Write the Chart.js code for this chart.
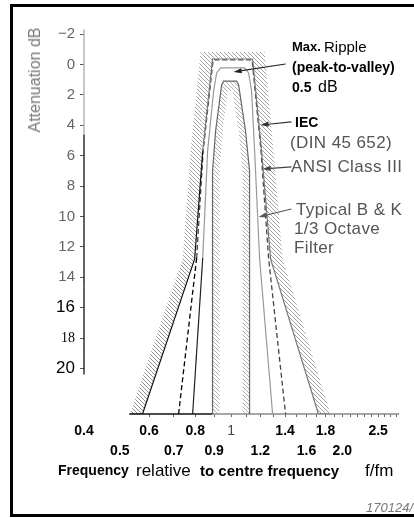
<!DOCTYPE html>
<html>
<head>
<meta charset="utf-8">
<script src="https://cdn.jsdelivr.net/npm/chart.js@4.4.0/dist/chart.umd.min.js"></script>
<style>
  html, body { margin: 0; padding: 0; background: #fff; }
  #wrap { position: relative; width: 414px; height: 518px; overflow: hidden; font-family: 'Liberation Sans', Arial, sans-serif; }
  #frame { position: absolute; left: 10px; top: 4px; width: 520px; height: 507px; border: 3px solid #000; border-right: none; }
  #chart { position: absolute; left: 0; top: 0; }
  .t { position: absolute; white-space: nowrap; line-height: 1; }
  .b { font-weight: bold; }
  .g { color: #555; font-size: 17px; letter-spacing: 0.4px; }
  #ytitle { left: 35px; top: 80px; transform: translate(-50%, -50%) rotate(-90deg); font-size: 16px; color: #777; }
</style>
</head>
<body>
<div id="wrap">
  <div id="frame"></div>
  <canvas id="chart" width="414" height="518"></canvas>

  <div id="ytitle" class="t">Attenuation dB</div>

  <div class="t b" style="left:292px;top:40px;font-size:13px;">Max.</div>
  <div class="t" style="left:324px;top:39px;font-size:15px;">Ripple</div>
  <div class="t b" style="left:292px;top:60px;font-size:14px;">(peak-to-valley)</div>
  <div class="t b" style="left:292px;top:80px;font-size:14px;">0.5</div>
  <div class="t" style="left:318px;top:79px;font-size:16px;">dB</div>
  <div class="t b" style="left:295px;top:115px;font-size:14px;">IEC</div>
  <div class="t g" style="left:290px;top:134px;">(DIN 45 652)</div>
  <div class="t g" style="left:291px;top:158px;">ANSI Class III</div>
  <div class="t g" style="left:296px;top:201px;">Typical B &amp; K</div>
  <div class="t g" style="left:294px;top:220px;">1/3 Octave</div>
  <div class="t g" style="left:294px;top:239px;">Filter</div>

  <div class="t b" style="left:58px;top:463px;font-size:14px;">Frequency</div>
  <div class="t" style="left:136px;top:462px;font-size:17px;">relative</div>
  <div class="t b" style="left:200px;top:463px;font-size:15px;">to centre frequency</div>
  <div class="t" style="left:365px;top:462px;font-size:17px;">f/fm</div>

  <div class="t" style="left:366px;top:501px;font-size:13px;font-style:italic;color:#777;">170124/</div>
</div>

<script>
// IEC limit, hatched on the outside (f/fm, dB)
const iecOuterF  = [0.535, 0.576, 0.797, 0.838, 0.891, 1.143, 1.209, 1.279, 1.723, 1.857];
const iecOuterDb = [23, 23, 12.8, 5.7, -0.36, -0.36, 5.7, 12.8, 23, 23];
const iecHatchF  = [0.535, 0.740, 0.777, 0.827, 1.232, 1.302, 1.378, 1.857];
const iecHatchDb = [23, 12.8, 5.7, -0.82, -0.82, 5.7, 12.8, 23];

// IEC inner limit, hatched on the inside
const innerF  = [0.891, 0.891, 0.908, 0.943, 0.954, 1.035, 1.048, 1.094, 1.122, 1.122];
const innerDb = [23, 7.01, 4.38, 1.35, 1.09, 1.09, 1.35, 4.38, 7.01, 23];
const innerHatchF  = [0.891, 0.931, 0.931, 0.949, 0.979, 1.009, 1.048, 1.074, 1.074, 1.122];
const innerHatchDb = [23, 23, 7.01, 4.38, 1.74, 1.74, 4.38, 7.01, 23, 23];

// ANSI Class III (dashed)
const ansiF  = [0.721, 0.807, 0.840, 0.894, 1.140, 1.205, 1.263, 1.404];
const ansiDb = [23, 12.73, 5.69, -0.3, -0.3, 5.69, 12.73, 23];

// typical B&K 1/3 octave filter
const bkF  = [0.787, 0.838, 0.864, 0.897, 0.914, 0.937, 1.088, 1.115, 1.136, 1.158, 1.194, 1.295];
const bkDb = [23, 12.73, 5.69, 1.74, 0.56, 0.23, 0.23, 0.56, 1.74, 5.69, 12.73, 23];

// axis lines
const baseF  = [0.53, 0.89, 2.85];
const baseDb = [23, 23, 23];
const yAxisDb = [-2.3, 4.6, 14.6, 20.4];

// arrows: label -> curve
const arrowTailF  = [1.404, 1.457, 1.457, 1.457];
const arrowTailDb = [-0.03, 3.78, 6.74, 9.51];
const arrowHeadF  = [1.016, 1.202, 1.217, 1.187];
const arrowHeadDb = [0.49, 3.98, 6.88, 10.03];

// ticks
const xTickValues = [0.4, 0.5, 0.6, 0.7, 0.8, 0.9, 1, 1.1, 1.2, 1.3, 1.4, 1.5, 1.6, 1.7, 1.8, 1.9, 2, 2.1, 2.2, 2.3, 2.4, 2.5, 2.6, 2.7, 2.8];
const xLabelsTop = ['0.4', '0.6', '0.8', '1', '1.4', '1.8', '2.5'];
const xLabelsBottom = ['0.5', '0.7', '0.9', '1.2', '1.6', '2.0'];
const yTickValues = [-2, -1, 0, 1, 2, 3, 4, 5, 6, 7, 8, 9, 10, 11, 12, 13, 14, 15, 16, 17, 18, 19, 20];
const yLabelValues = [-2, 0, 2, 4, 6, 8, 10, 12, 14, 16, 18, 20];

const zip = (fs, ds) => fs.map((f, i) => ({ x: f, y: ds[i] }));

function hatch(color) {
  const c = document.createElement('canvas');
  c.width = 4; c.height = 4;
  const g = c.getContext('2d');
  g.strokeStyle = color;
  g.lineWidth = 0.9;
  g.beginPath();
  g.moveTo(-1, -1); g.lineTo(5, 5);
  g.moveTo(3, -1); g.lineTo(5, 1);
  g.moveTo(-1, 3); g.lineTo(1, 5);
  g.stroke();
  return g.createPattern(c, 'repeat');
}

const leftLow = ctx => ctx.p0.parsed.x < 0.8;

const arrowPlugin = {
  id: 'arrows',
  afterDatasetsDraw(chart) {
    const { ctx, scales: { x, y } } = chart;
    const colors = ['#222', '#333', '#444', '#555'];
    ctx.save();
    arrowHeadF.forEach((hf, i) => {
      const x0 = x.getPixelForValue(arrowTailF[i]), y0 = y.getPixelForValue(arrowTailDb[i]);
      const x1 = x.getPixelForValue(hf), y1 = y.getPixelForValue(arrowHeadDb[i]);
      const a = Math.atan2(y1 - y0, x1 - x0);
      const ca = Math.cos(a), sa = Math.sin(a);
      ctx.strokeStyle = colors[i];
      ctx.fillStyle = colors[i];
      ctx.lineWidth = 1.1;
      ctx.beginPath();
      ctx.moveTo(x0, y0);
      ctx.lineTo(x1 - 5 * ca, y1 - 5 * sa);
      ctx.stroke();
      ctx.beginPath();
      ctx.moveTo(x1, y1);
      ctx.lineTo(x1 - 8 * ca + 2.6 * sa, y1 - 8 * sa - 2.6 * ca);
      ctx.lineTo(x1 - 8 * ca - 2.6 * sa, y1 - 8 * sa + 2.6 * ca);
      ctx.closePath();
      ctx.fill();
    });
    ctx.restore();
  }
};

const datasets = [
  { // 0 IEC outer
    data: zip(iecOuterF, iecOuterDb), borderWidth: 1.2, fill: '+1',
    backgroundColor: hatch('#9a9a9a'),
    segment: { borderColor: ctx => leftLow(ctx) ? '#111' : '#777' }
  },
  { // 1 outer hatch edge
    data: zip(iecHatchF, iecHatchDb), borderWidth: 0, fill: false
  },
  { // 2 lower left, darker hatch
    data: zip(iecOuterF.slice(0, 3), iecOuterDb.slice(0, 3)), borderWidth: 0, fill: '+1',
    backgroundColor: hatch('#222')
  },
  { // 3
    data: zip([iecHatchF[0], iecHatchF[1], iecOuterF[2]], [iecHatchDb[0], iecHatchDb[1], iecOuterDb[2]]),
    borderWidth: 0, fill: false
  },
  { // 4 IEC inner
    data: zip(innerF, innerDb), borderWidth: 1.2, borderColor: '#666', fill: '+1',
    backgroundColor: hatch('#a8a8a8')
  },
  { // 5 inner hatch edge
    data: zip(innerHatchF, innerHatchDb), borderWidth: 0, fill: false
  },
  { // 6 ANSI
    data: zip(ansiF, ansiDb), borderWidth: 1.3, borderDash: [5, 3], fill: false,
    segment: { borderColor: ctx => leftLow(ctx) ? '#000' : '#444' }
  },
  { // 7 B&K
    data: zip(bkF, bkDb), borderWidth: 1.2, fill: false,
    segment: { borderColor: ctx => leftLow(ctx) ? '#222' : '#999' }
  },
  { // 8 x baseline
    data: zip(baseF, baseDb), borderWidth: 1.3, fill: false, clip: false,
    segment: { borderColor: ctx => ctx.p0DataIndex === 0 ? '#111' : '#888' }
  },
  { // 9 y axis line
    data: yAxisDb.map(d => ({ x: 0.4, y: d })), borderWidth: 1.3, fill: false, clip: false,
    segment: {
      borderColor: ctx => ctx.p0DataIndex === 0 ? '#aaa' : '#111',
      borderDash: ctx => ctx.p0DataIndex === 2 ? [7, 4] : undefined
    }
  }
];

new Chart(document.getElementById('chart'), {
  type: 'line',
  data: { datasets },
  options: {
    responsive: false,
    animation: false,
    events: [],
    layout: { padding: { left: 22, top: 28, right: 12, bottom: 44 } },
    plugins: {
      legend: { display: false },
      tooltip: { enabled: false },
      filler: { drawTime: 'beforeDatasetsDraw' }
    },
    elements: { point: { radius: 0 }, line: { tension: 0 } },
    scales: {
      x: {
        type: 'logarithmic',
        min: 0.4,
        max: 2.9,
        border: { display: false },
        grid: {
          drawOnChartArea: false,
          tickLength: 3,
          color: ctx => (ctx.tick && ctx.tick.value < 0.55 ? 'rgba(0,0,0,0)' : '#666')
        },
        afterBuildTicks: s => { s.ticks = xTickValues.map(v => ({ value: v })); },
        afterFit: s => { s.height = 60; },
        ticks: {
          autoSkip: false,
          maxRotation: 0,
          minRotation: 0,
          padding: 4,
          color: ctx => (ctx.tick && ctx.tick.value === 1 ? '#444' : '#000'),
          font: ctx => ({
            family: 'Liberation Sans',
            size: 14,
            weight: ctx.tick && ctx.tick.value === 1 ? 'normal' : 'bold',
            lineHeight: 1.43
          }),
          callback: v => {
            const top = xLabelsTop.find(l => Math.abs(parseFloat(l) - v) < 1e-6);
            if (top) return top;
            const bottom = xLabelsBottom.find(l => Math.abs(parseFloat(l) - v) < 1e-6);
            if (bottom) return ['', bottom];
            return '';
          }
        }
      },
      y: {
        type: 'linear',
        reverse: true,
        min: -2.4,
        max: 23,
        border: { display: false },
        grid: { drawOnChartArea: false, tickLength: 4, color: '#555' },
        afterBuildTicks: s => { s.ticks = yTickValues.map(v => ({ value: v })); },
        afterFit: s => { s.width = 62; },
        ticks: {
          padding: 5,
          color: ctx => {
            const v = ctx.tick && ctx.tick.value;
            return v >= 16 ? '#000' : '#666';
          },
          font: ctx => {
            const v = ctx.tick && ctx.tick.value;
            if (v === 18) return { family: 'Liberation Serif', size: 14 };
            if (v === 16 || v === 20) return { family: 'Liberation Sans', size: 17 };
            return { family: 'Liberation Sans', size: 15 };
          },
          callback: v => (yLabelValues.includes(v) ? (v < 0 ? '\u2212' + (-v) : String(v)) : '')
        }
      }
    }
  },
  plugins: [arrowPlugin]
});
</script>
</body>
</html>
